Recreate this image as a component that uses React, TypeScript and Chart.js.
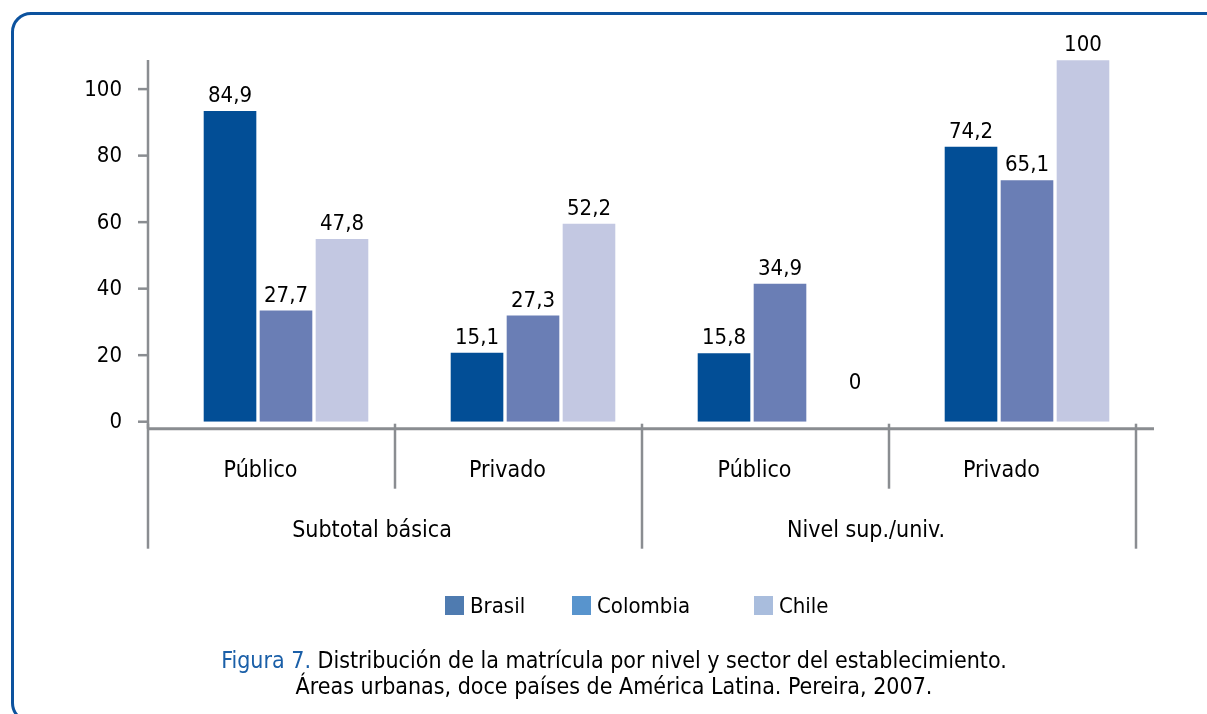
import React, { useEffect, useRef } from "react";
import { Chart, registerables } from "chart.js";

Chart.register(...registerables);

// ---- data ----
const subCategories = ["Público", "Privado", "Público", "Privado"];
const groupLabels = ["Subtotal básica", "Nivel sup./univ."];
const seriesNames = ["Brasil", "Colombia", "Chile"];

// values printed above the bars
const brasilValues = [84.9, 15.1, 15.8, 74.2];
const colombiaValues = [27.7, 27.3, 34.9, 65.1];
const chileValues = [47.8, 52.2, 0, 100];

// bar heights as drawn against the value axis of the picture
const brasilBars = [93.4, 20.7, 20.6, 82.7];
const colombiaBars = [33.4, 31.9, 41.5, 72.6];
const chileBars = [54.9, 59.5, 0, 108.7];

const yTickValues = [0, 20, 40, 60, 80, 100];

// ---- styles ----
const FONT = '"DejaVu Sans Condensed", "DejaVu Sans", sans-serif';
const barColors = ["#024e96", "#6a7eb5", "#c3c8e2"];
const legendColors = ["#4f7bb0", "#5894cd", "#a9bddd"];
const axisColor = "#8a8d91";

const labelArrays = [brasilValues, colombiaValues, chileValues];

function fmt(v: number): string {
  return String(v).replace(".", ",");
}

const dataLabelPlugin = {
  id: "dataLabels",
  afterDatasetsDraw(chart: any) {
    const { ctx } = chart;
    const yScale = chart.scales.y;
    ctx.save();
    ctx.font = `22px ${FONT}`;
    ctx.fillStyle = "#000";
    ctx.textAlign = "center";
    ctx.textBaseline = "alphabetic";
    chart.data.datasets.forEach((_ds: any, i: number) => {
      const meta = chart.getDatasetMeta(i);
      meta.data.forEach((bar: any, j: number) => {
        const v = labelArrays[i][j];
        if (v === 0) {
          ctx.fillText(fmt(v), bar.x + 19, yScale.getPixelForValue(0) - 33);
        } else {
          ctx.fillText(fmt(v), bar.x, bar.y - 9);
        }
      });
    });
    ctx.restore();
  },
};

const axesPlugin = {
  id: "customAxes",
  afterDraw(chart: any) {
    const { ctx, chartArea } = chart;
    const yScale = chart.scales.y;
    const n = subCategories.length;
    const catW = (chartArea.right - chartArea.left) / n;
    const axisX = chartArea.left - 14.5;
    const axisY = chartArea.bottom + 7;
    ctx.save();
    ctx.strokeStyle = axisColor;
    ctx.lineWidth = 2.5;
    ctx.lineCap = "butt";
    const line = (x1: number, y1: number, x2: number, y2: number) => {
      ctx.beginPath();
      ctx.moveTo(x1, y1);
      ctx.lineTo(x2, y2);
      ctx.stroke();
    };
    // value axis
    line(axisX, chartArea.top, axisX, axisY);
    ctx.font = `22px ${FONT}`;
    ctx.fillStyle = "#000";
    ctx.textAlign = "right";
    ctx.textBaseline = "middle";
    yTickValues.forEach((t) => {
      const py = yScale.getPixelForValue(t);
      line(axisX - 10, py, axisX, py);
      ctx.fillText(String(t), axisX - 26, py + 1);
    });
    // category axis
    ctx.lineWidth = 3;
    line(axisX, axisY, chartArea.right + 3.5, axisY);
    ctx.lineWidth = 2.5;
    for (let k = 0; k <= n; k++) {
      const sx = axisX + k * catW;
      const bottom = k % 2 === 0 ? axisY + 120 : axisY + 60;
      line(sx, axisY - 5, sx, bottom);
    }
    ctx.textAlign = "center";
    ctx.textBaseline = "alphabetic";
    ctx.font = `23px ${FONT}`;
    subCategories.forEach((c, i) => {
      ctx.fillText(c, axisX + (i + 0.5) * catW - 11, axisY + 48);
    });
    groupLabels.forEach((g, i) => {
      ctx.fillText(g, axisX + (2 * i + 1) * catW - 23, axisY + 108);
    });
    ctx.restore();
  },
};

export default function App() {
  const canvasRef = useRef<HTMLCanvasElement | null>(null);

  useEffect(() => {
    if (!canvasRef.current) return;
    const chart = new Chart(canvasRef.current, {
      type: "bar",
      data: {
        labels: subCategories,
        datasets: [
          { label: seriesNames[0], data: brasilBars, backgroundColor: barColors[0], borderWidth: 0 },
          { label: seriesNames[1], data: colombiaBars, backgroundColor: barColors[1], borderWidth: 0 },
          { label: seriesNames[2], data: chileBars, backgroundColor: barColors[2], borderWidth: 0 },
        ],
      },
      options: {
        animation: false,
        responsive: false,
        devicePixelRatio: 1,
        layout: { padding: { left: 162.5, right: 56.5, top: 60, bottom: 292.3 } },
        datasets: { bar: { categoryPercentage: 0.68, barPercentage: 0.94 } },
        scales: {
          x: { type: "category", display: false, offset: true },
          y: { display: false, min: 0, max: 108.75 },
        },
        plugins: { legend: { display: false }, tooltip: { enabled: false } },
      },
      plugins: [dataLabelPlugin, axesPlugin],
    });
    return () => chart.destroy();
  }, []);

  return (
    <div
      style={{
        position: "fixed",
        left: 0,
        top: 0,
        width: 1207,
        height: 714,
        overflow: "hidden",
        background: "#fff",
        fontFamily: FONT,
      }}
    >
      <div
        style={{
          position: "absolute",
          left: 11,
          top: 12,
          width: 1260,
          height: 711,
          border: "3px solid #0c529e",
          borderRadius: 20,
          boxSizing: "border-box",
        }}
      />
      <canvas
        ref={canvasRef}
        width={1207}
        height={714}
        style={{ position: "absolute", left: 0, top: 0, width: 1207, height: 714 }}
      />
      {seriesNames.map((name, i) => {
        const lefts = [445, 572, 754];
        return (
          <div
            key={name}
            style={{
              position: "absolute",
              left: lefts[i],
              top: 596,
              height: 19,
              display: "flex",
              alignItems: "center",
              fontSize: 22,
              color: "#000",
              whiteSpace: "nowrap",
            }}
          >
            <span
              style={{
                display: "inline-block",
                width: 19,
                height: 19,
                background: legendColors[i],
                marginRight: 6,
              }}
            />
            <span>{name}</span>
          </div>
        );
      })}
      <div
        style={{
          position: "absolute",
          left: 0,
          width: 1228,
          top: 647,
          textAlign: "center",
          fontSize: 23,
          lineHeight: "26px",
          color: "#000",
        }}
      >
        <span style={{ color: "#1a5fa8" }}>Figura 7.</span> Distribución de la matrícula por nivel y sector del establecimiento.
        <br />
        Áreas urbanas, doce países de América Latina. Pereira, 2007.
      </div>
    </div>
  );
}
